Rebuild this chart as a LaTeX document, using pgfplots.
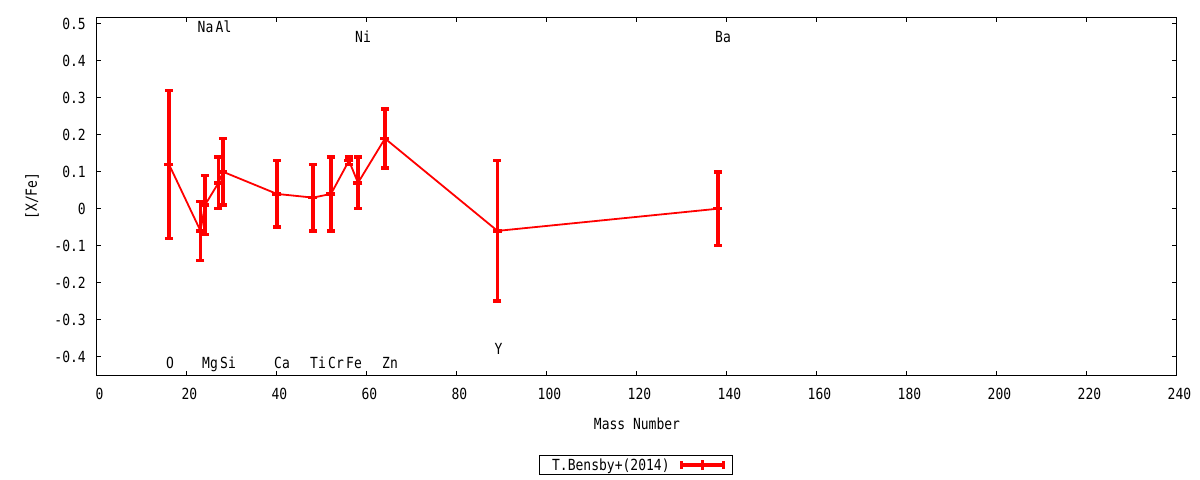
\documentclass[border=0pt]{standalone}
\usepackage{fontspec}
\setmainfont{DejaVu Sans Mono}[FakeStretch=0.85]
\usepackage{pgfplots}
\usepackage{pgfplotstable}
\pgfplotsset{compat=1.18}

\pgfplotstableread{
x    y      e
16   0.12   0.20
23  -0.06   0.08
24   0.01   0.08
27   0.07   0.07
28   0.10   0.09
40   0.04   0.09
48   0.03   0.09
52   0.04   0.10
56   0.13   0.01
58   0.07   0.07
64   0.19   0.08
89  -0.06   0.19
138  0.00   0.10
}\bensby

\begin{document}
\begin{tikzpicture}[font=\fontsize{15.3bp}{18bp}\selectfont]
\path[use as bounding box] (-97bp,-105bp) rectangle (1103bp,375bp);
\begin{axis}[
  at={(0,0)}, anchor=south west,
  scale only axis, width=1080bp, height=357.7bp,
  xmin=0, xmax=240, ymin=-0.45, ymax=0.518,
  xtick={0,20,40,60,80,100,120,140,160,180,200,220,240},
  xticklabels={0,20,40,60,80,100,120,140,160,180,200,220,240},
  ytick={-0.4,-0.3,-0.2,-0.1,0,0.1,0.2,0.3,0.4,0.5},
  yticklabels={-0.4,-0.3,-0.2,-0.1,0,0.1,0.2,0.3,0.4,0.5},
  tick align=inside, major tick length=4.5bp,
  tick style={black, line width=1bp},
  axis line style={black, line width=1bp},
  yticklabel style={anchor=east, inner sep=0pt, xshift=-11bp},
  xticklabel style={anchor=north, inner sep=0pt, yshift=-13bp, xshift=2.5bp},
  xlabel={Mass Number},
  xlabel style={at={(axis description cs:0.5,0)}, anchor=center, inner sep=0pt, yshift=-49bp},
  ylabel={[X/Fe]},
  ylabel style={at={(axis description cs:-0.0602,0.5)}, anchor=center, inner sep=0pt},
  legend style={at={(axis description cs:0.4991,-0.2516)}, anchor=center,
    draw=black, line width=1bp, inner xsep=6bp, inner ysep=3bp,
    nodes={inner sep=0pt}, column sep=9bp},
  legend plot pos=right,
  legend image code/.code={
    \draw[red, line width=3.3bp] (0bp,0bp) -- (45bp,0bp);
    \draw[red, line width=3.3bp] (1.5bp,-4bp) -- (1.5bp,4bp);
    \draw[red, line width=3.3bp] (43.5bp,-4bp) -- (43.5bp,4bp);
    \draw[red, line width=3.3bp] (22.5bp,-5bp) -- (22.5bp,5bp);
  },
]
\addplot[red, line width=1.8bp, mark=-, mark size=4.5bp,
  mark options={line width=3.5bp, solid},
  error bars/.cd, y dir=both, y explicit,
  error bar style={line width=3.5bp, red},
  error mark options={rotate=90, line width=3.5bp, mark size=4bp, red}]
  table[x=x, y=y, y error=e] {\bensby};
\addlegendentry{\hspace{7bp}T.Bensby+(2014)}

\node[anchor=base west, inner sep=0pt, xshift=-3bp] at (axis cs:16,-0.433) {O};
\node[anchor=base west, inner sep=0pt, xshift=-3bp] at (axis cs:24,-0.433) {Mg};
\node[anchor=base west, inner sep=0pt, xshift=-3bp] at (axis cs:28,-0.433) {Si};
\node[anchor=base west, inner sep=0pt, xshift=-3bp] at (axis cs:40,-0.433) {Ca};
\node[anchor=base west, inner sep=0pt, xshift=-3bp] at (axis cs:48,-0.433) {Ti};
\node[anchor=base west, inner sep=0pt, xshift=-3bp] at (axis cs:52,-0.433) {Cr};
\node[anchor=base west, inner sep=0pt, xshift=-3bp] at (axis cs:56,-0.433) {Fe};
\node[anchor=base west, inner sep=0pt, xshift=-3bp] at (axis cs:64,-0.433) {Zn};
\node[anchor=base west, inner sep=0pt, xshift=-3bp] at (axis cs:89,-0.395) {Y};
\node[anchor=base west, inner sep=0pt, xshift=-3bp] at (axis cs:23,0.476) {Na};
\node[anchor=base west, inner sep=0pt, xshift=-3bp] at (axis cs:27,0.476) {Al};
\node[anchor=base west, inner sep=0pt, xshift=-3bp] at (axis cs:58,0.449) {Ni};
\node[anchor=base west, inner sep=0pt, xshift=-3bp] at (axis cs:138,0.449) {Ba};
\end{axis}
\end{tikzpicture}
\end{document}
